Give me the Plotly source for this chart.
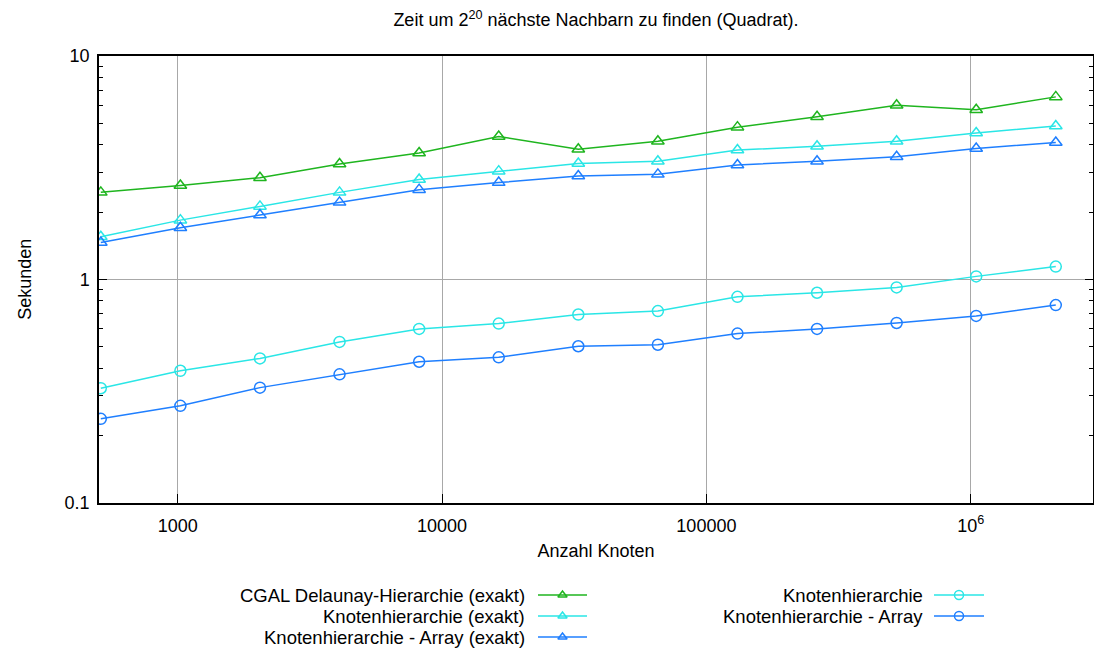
import numpy as np
import plotly.graph_objects as go

# ---------------- data ----------------
knoten = [512, 1024, 2048, 4096, 8192, 16384, 32768, 65536,
          131072, 262144, 524288, 1048576, 2097152]

cgal_exakt = [2.45, 2.63, 2.85, 3.28, 3.68, 4.36, 3.82, 4.15, 4.80, 5.34, 6.02, 5.74, 6.56]
kh_exakt = [1.55, 1.84, 2.12, 2.45, 2.80, 3.05, 3.30, 3.38, 3.79, 3.94, 4.15, 4.52, 4.86]
kh_array_exakt = [1.46, 1.70, 1.94, 2.21, 2.52, 2.71, 2.90, 2.95, 3.25, 3.38, 3.54, 3.85, 4.10]
kh = [0.325, 0.389, 0.442, 0.524, 0.599, 0.633, 0.695, 0.720, 0.834, 0.870, 0.919, 1.03, 1.14]
kh_array = [0.237, 0.271, 0.327, 0.375, 0.427, 0.447, 0.501, 0.509, 0.571, 0.599, 0.637, 0.685, 0.766]

series_names = ["CGAL Delaunay-Hierarchie (exakt)", "Knotenhierarchie (exakt)",
                "Knotenhierarchie - Array (exakt)", "Knotenhierarchie",
                "Knotenhierarchie - Array"]
series_values = [cgal_exakt, kh_exakt, kh_array_exakt, kh, kh_array]

x_tickvals = [1000, 10000, 100000, 1000000]
x_ticktext = ["1000", "10000", "100000", "10<sup>6</sup>"]
y_tickvals = [0.1, 1, 10]
y_ticktext = ["0.1", "1", "10"]

# ---------------- styles ----------------
GREEN = "#1fb51f"
CYAN = "#2ae6e6"
BLUE = "#1f7fff"
colors = [GREEN, CYAN, BLUE, CYAN, BLUE]
symbols = ["triangle-up-open"] * 3 + ["circle-open"] * 2
sizes = [11, 11, 11, 11, 11]
legend_symbol_sizes = [8, 8, 8, 9, 9]

W, H = 1094, 649
FONT = "Liberation Sans, Arial, sans-serif"
FS = 18
FS_LEG = 18.5

# plot area in pixels
PL, PR, PT, PB = 99, 1093, 56, 502.5

fig = go.Figure()

for name, vals, c, s, sz in zip(series_names, series_values, colors, symbols, sizes):
    fig.add_trace(go.Scatter(
        x=knoten, y=vals, mode="lines+markers", name=name,
        line=dict(color=c, width=1.5),
        marker=dict(symbol=s, size=sz, color=c, line=dict(color=c, width=1.5)),
        xaxis="x", yaxis="y", showlegend=False))

# ---------------- custom legend (text left, sample right) ----------------
legend_pos = [  # (text right edge, line start, line end, row y) in pixels
    (527, 538, 587, 595),
    (527, 538, 587, 616),
    (527, 538, 587, 637),
    (925, 934, 984, 595),
    (925, 934, 984, 616),
]
annotations = []
for (tr, l0, l1, ry), name, c, s, lsz in zip(legend_pos, series_names, colors, symbols, legend_symbol_sizes):
    fig.add_trace(go.Scatter(
        x=[l0, l1], y=[ry, ry], mode="lines", line=dict(color=c, width=1.5),
        xaxis="x2", yaxis="y2", showlegend=False, hoverinfo="skip"))
    fig.add_trace(go.Scatter(
        x=[(l0 + l1) / 2], y=[ry], mode="markers",
        marker=dict(symbol=s, size=lsz, color=c, line=dict(color=c, width=1.5)),
        xaxis="x2", yaxis="y2", showlegend=False, hoverinfo="skip"))
    annotations.append(dict(x=tr, y=ry, xref="x2", yref="y2", text=name,
                            showarrow=False, xanchor="right", yanchor="middle",
                            font=dict(family=FONT, size=FS_LEG, color="black")))

fig.update_layout(
    width=W, height=H,
    margin=dict(l=0, r=0, t=0, b=0, autoexpand=False),
    paper_bgcolor="white", plot_bgcolor="rgba(0,0,0,0)",
    font=dict(family=FONT, size=FS, color="black"),
    title=dict(text="Zeit um 2<sup>20</sup> nächste Nachbarn zu finden (Quadrat).",
               x=((PL + PR) / 2) / W, xref="paper", xanchor="center",
               y=1 - 20 / H, yref="paper", yanchor="middle",
               font=dict(family=FONT, size=FS, color="black")),
    xaxis=dict(
        type="log", range=[np.log10(504), np.log10(2.9e6)],
        domain=[PL / W, PR / W], automargin=False,
        tickmode="array", tickvals=x_tickvals, ticktext=x_ticktext,
        ticks="inside", ticklen=9, tickwidth=1, tickcolor="black",
        ticklabelstandoff=6,
        showline=True, linecolor="black", linewidth=1.5, mirror=True,
        showgrid=True, gridcolor="#a8a8a8", gridwidth=1,
        zeroline=False,
        title=dict(text="Anzahl Knoten", font=dict(family=FONT, size=FS), standoff=10),
        tickfont=dict(family=FONT, size=FS),
        anchor="y",
    ),
    yaxis=dict(
        type="log", range=[-1, 1],
        domain=[1 - PB / H, 1 - PT / H], automargin=False,
        tickmode="array", tickvals=y_tickvals, ticktext=y_ticktext,
        ticks="inside", ticklen=8, tickwidth=1, tickcolor="black",
        ticklabelstandoff=4,
        minor=dict(ticks="inside", ticklen=4, tickcolor="black", dtick="D1",
                   showgrid=False),
        showline=True, linecolor="black", linewidth=1.5, mirror="ticks",
        showgrid=True, gridcolor="#a8a8a8", gridwidth=1,
        zeroline=False,
        title=dict(text="Sekunden", font=dict(family=FONT, size=FS), standoff=28),
        tickfont=dict(family=FONT, size=FS),
        anchor="x",
    ),
    xaxis2=dict(range=[0, W], domain=[0, 1], visible=False, anchor="y2",
                fixedrange=True, automargin=False),
    yaxis2=dict(range=[H, 0], domain=[0, 1], visible=False, anchor="x2",
                fixedrange=True, automargin=False),
    annotations=annotations,
)

fig.write_html("out.html")
